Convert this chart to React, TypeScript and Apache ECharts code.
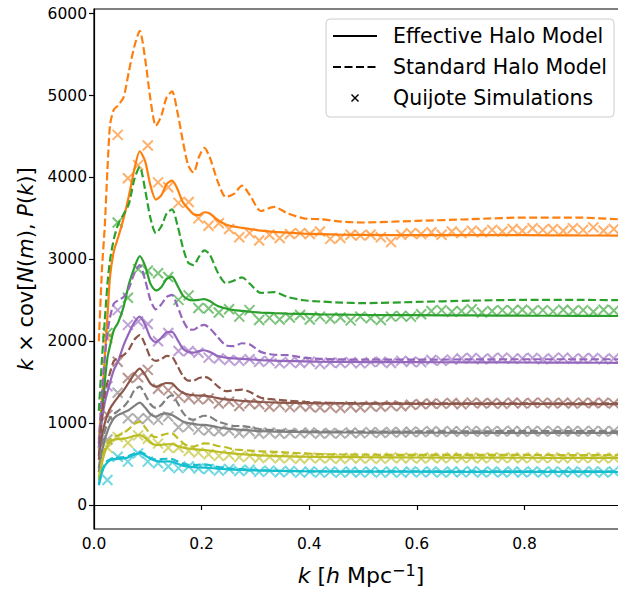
import React, { useEffect, useRef } from "react";
import * as echarts from "echarts";

const kModel = [0.009,0.015,0.02,0.025,0.03,0.037,0.045,0.055,0.065,0.075,0.085,0.095,0.105,0.115,0.125,0.135,0.145,0.155,0.165,0.175,0.185,0.195,0.205,0.215,0.23,0.245,0.26,0.275,0.29,0.31,0.335,0.36,0.39,0.42,0.46,0.5,0.6,0.7,0.8,0.9,0.985];

const orangeStd = [2000,2900,3400,4100,4650,4830,4880,4980,5300,5600,5790,5450,4950,4630,4750,4980,5050,4800,4450,4150,4060,4250,4360,4250,3950,3760,3800,3900,3780,3590,3640,3560,3500,3490,3460,3450,3470,3490,3510,3510,3485];
const orangeEff = [800,1300,1800,2300,2800,3100,3270,3500,3780,4100,4320,4200,3900,3730,3780,3920,3960,3860,3700,3620,3550,3540,3575,3560,3480,3425,3400,3385,3370,3350,3335,3325,3315,3308,3300,3298,3295,3295,3295,3292,3290];
const greenStd = [1150,1800,2250,2700,3000,3250,3430,3550,3680,3980,4130,3850,3500,3320,3400,3560,3610,3420,3150,2960,2930,3030,3110,3060,2840,2710,2740,2780,2700,2590,2600,2540,2500,2485,2472,2465,2480,2495,2505,2505,2500];
const greenEff = [700,1150,1500,1800,1950,2140,2230,2420,2700,2900,3040,2920,2700,2620,2660,2760,2790,2680,2560,2510,2500,2505,2515,2490,2430,2400,2380,2370,2360,2350,2342,2337,2333,2328,2325,2322,2318,2315,2312,2310,2308];
const purpleStd = [750,1400,1800,2100,2300,2460,2500,2540,2650,2830,2930,2750,2500,2390,2450,2540,2565,2430,2260,2150,2140,2180,2200,2160,2050,1950,1940,1975,1960,1870,1835,1830,1800,1785,1778,1775,1775,1778,1780,1780,1780];
const purpleEff = [700,1050,1250,1380,1500,1650,1760,1950,2100,2230,2300,2200,2040,1990,2040,2110,2115,2020,1910,1870,1860,1880,1890,1870,1820,1800,1790,1785,1778,1770,1762,1758,1754,1750,1748,1746,1744,1742,1740,1738,1736];
const brownStd = [600,1100,1350,1500,1620,1760,1800,1830,1900,2020,2075,1960,1800,1760,1780,1820,1810,1700,1580,1520,1520,1550,1565,1540,1450,1390,1400,1410,1380,1310,1290,1275,1260,1250,1245,1242,1240,1240,1242,1242,1240];
const brownEff = [550,850,1000,1100,1180,1250,1320,1400,1500,1600,1665,1590,1480,1445,1470,1490,1485,1420,1370,1350,1340,1335,1335,1325,1305,1290,1280,1272,1265,1258,1252,1248,1245,1242,1240,1238,1236,1235,1234,1233,1232];
const grayStd = [450,750,900,1000,1060,1110,1150,1200,1280,1400,1445,1350,1230,1185,1220,1300,1340,1250,1130,1060,1040,1070,1090,1080,1020,990,965,965,950,925,915,905,900,898,897,897,898,900,902,902,900];
const grayEff = [400,650,800,900,980,1060,1100,1130,1160,1210,1250,1190,1110,1080,1110,1120,1100,1060,1020,1000,990,980,978,970,950,935,925,918,910,903,897,893,890,888,886,885,883,882,881,880,880];
const oliveStd = [330,560,680,760,800,830,850,880,930,990,1015,950,860,830,850,870,875,820,760,720,712,735,752,750,720,705,680,672,665,655,650,640,630,622,617,614,612,611,611,610,610];
const oliveEff = [300,520,640,720,770,800,805,810,825,845,855,820,760,735,735,742,745,720,700,690,682,676,672,665,650,638,628,620,612,605,598,594,590,587,585,583,580,578,577,576,575];
const cyanStd = [260,420,500,540,560,575,580,585,600,630,650,620,575,555,560,565,562,535,505,490,488,492,495,488,465,450,442,438,433,425,420,415,412,410,410,410,410,410,411,411,410];
const cyanEff = [240,400,480,520,545,560,565,570,585,615,632,605,565,540,530,532,530,505,480,468,462,458,456,452,445,438,432,428,424,420,417,414,412,410,408,407,406,405,404,404,403];

const kSim = [0.025,0.044,0.063,0.082,0.100,0.119,0.138,0.157,0.176,0.194,0.213,0.232,0.251,0.270,0.289,0.307,0.326,0.345,0.364,0.383,0.401,0.420,0.439,0.458,0.477,0.495,0.514,0.533,0.552,0.571,0.589,0.608,0.627,0.646,0.665,0.683,0.702,0.721,0.740,0.759,0.778,0.796,0.815,0.834,0.853,0.872,0.890,0.909,0.928,0.947,0.966];

const orangeSim = [2040,4520,3990,4150,4390,3940,3880,3690,3700,3500,3410,3440,3370,3270,3320,3230,3300,3260,3310,3320,3310,3340,3250,3260,3300,3290,3300,3270,3210,3300,3320,3310,3330,3300,3340,3320,3350,3330,3360,3340,3370,3350,3380,3360,3370,3350,3380,3360,3390,3350,3370];
const greenSim = [2100,3450,2530,2880,2860,2830,2785,2505,2560,2405,2400,2350,2390,2300,2380,2260,2285,2265,2290,2320,2265,2300,2275,2290,2255,2300,2280,2260,2300,2310,2300,2330,2370,2380,2360,2370,2390,2350,2370,2380,2375,2385,2370,2380,2365,2385,2370,2380,2360,2385,2375];
const purpleSim = [1450,2380,2200,2240,2210,2000,2100,1880,1880,1860,1800,1790,1770,1760,1780,1750,1760,1730,1745,1735,1750,1720,1740,1735,1745,1730,1745,1750,1735,1760,1750,1745,1770,1760,1775,1790,1795,1780,1790,1800,1785,1790,1795,1780,1790,1800,1785,1790,1795,1780,1790];
const brownSim = [1100,1750,1550,1560,1650,1420,1400,1330,1310,1290,1300,1240,1260,1210,1240,1230,1200,1220,1195,1215,1200,1190,1200,1185,1205,1190,1210,1200,1215,1205,1225,1230,1240,1235,1245,1230,1250,1240,1245,1235,1250,1240,1245,1250,1240,1248,1238,1250,1242,1248,1240];
const graySim = [800,1370,1060,1050,1060,1040,1080,950,960,920,910,900,910,880,900,870,885,870,880,875,885,870,880,872,885,875,890,880,892,885,895,890,900,892,902,895,905,895,902,898,905,895,903,898,905,897,904,898,905,897,903];
const oliveSim = [700,830,760,850,810,750,700,700,660,640,620,600,610,585,600,575,590,570,580,565,580,570,575,565,578,568,575,565,580,570,578,568,580,570,582,572,580,570,582,572,580,570,582,572,580,570,582,572,580,570,578];
const cyanSim = [305,590,530,630,530,510,470,450,470,445,440,420,440,415,430,405,420,400,415,395,410,395,410,395,410,395,410,395,410,395,410,398,410,395,410,398,412,396,410,397,411,396,410,397,411,396,410,397,411,396,410];

const yTicks = [0, 1000, 2000, 3000, 4000, 5000, 6000];
const xTicks = [0, 0.2, 0.4, 0.6, 0.8];

const groups = [
  { color: "#ff7f0e", eff: orangeEff, std: orangeStd, sim: orangeSim },
  { color: "#2ca02c", eff: greenEff, std: greenStd, sim: greenSim },
  { color: "#9467bd", eff: purpleEff, std: purpleStd, sim: purpleSim },
  { color: "#8c564b", eff: brownEff, std: brownStd, sim: brownSim },
  { color: "#7f7f7f", eff: grayEff, std: grayStd, sim: graySim },
  { color: "#bcbd22", eff: oliveEff, std: oliveStd, sim: oliveSim },
  { color: "#17becf", eff: cyanEff, std: cyanStd, sim: cyanSim },
];

const FONT = "DejaVu Sans";
const CROSS = "path://M0,0L10,10M10,0L0,10";

export default function App() {
  const ref = useRef<HTMLDivElement>(null);
  useEffect(() => {
    const chart = echarts.init(ref.current!, null, { renderer: "svg" });
    const series: any[] = [];
    groups.forEach((g) => {
      series.push({
        type: "scatter",
        data: kSim.map((k, i) => [k, g.sim[i]]),
        symbol: CROSS,
        symbolSize: 10,
        itemStyle: { color: "none", borderColor: g.color, borderWidth: 2, opacity: 0.62 },
        silent: true,
        z: 2,
      });
    });
    groups.forEach((g) => {
      series.push({
        type: "line",
        data: kModel.map((k, i) => [k, g.eff[i]]),
        showSymbol: false,
        smooth: 0.25,
        lineStyle: { color: g.color, width: 2.2, type: "solid" },
        silent: true,
        z: 3,
      });
      series.push({
        type: "line",
        data: kModel.map((k, i) => [k, g.std[i]]),
        showSymbol: false,
        smooth: 0.25,
        lineStyle: { color: g.color, width: 2.2, type: [8, 3.5] },
        silent: true,
        z: 3,
      });
    });

    const option: any = {
      animation: false,
      backgroundColor: "#ffffff",
      grid: {
        left: 94,
        right: 6,
        top: 9,
        bottom: 61,
        show: true,
        borderColor: "#000",
        borderWidth: 1.2,
        backgroundColor: "transparent",
      },
      xAxis: {
        type: "value",
        min: 0,
        max: 0.985,
        splitLine: { show: false },
        axisLine: { show: true, lineStyle: { color: "#000", width: 1.2 } },
        axisTick: { show: true, length: 5, lineStyle: { color: "#000", width: 1.2 }, customValues: xTicks },
        axisLabel: {
          customValues: xTicks,
          formatter: (v: number) => v.toFixed(1),
          color: "#000",
          fontFamily: FONT,
          fontSize: 15.5,
          margin: 7,
        },
      },
      yAxis: {
        type: "value",
        min: -293,
        max: 6057,
        splitLine: { show: false },
        axisLine: { show: true, lineStyle: { color: "#000", width: 1.2 } },
        axisTick: { show: true, length: 5, lineStyle: { color: "#000", width: 1.2 }, customValues: yTicks },
        axisLabel: {
          customValues: yTicks,
          formatter: (v: number) => String(v),
          color: "#000",
          fontFamily: FONT,
          fontSize: 15.5,
          margin: 7,
        },
      },
      series,
      graphic: [
        {
          type: "text",
          x: 361,
          y: 575,
          z: 100,
          style: {
            text: "{i|k} [{i|h} Mpc{sup|−1}]",
            fontFamily: FONT,
            fontSize: 22,
            fill: "#000",
            align: "center",
            verticalAlign: "middle",
            rich: {
              i: { fontStyle: "italic", fontSize: 22, fontFamily: FONT },
              sup: { fontSize: 16, fontFamily: FONT, verticalAlign: "top", padding: [0, 0, 10, 0] },
            },
          },
        },
        {
          type: "text",
          x: 26,
          y: 269,
          rotation: Math.PI / 2,
          z: 100,
          style: {
            text: "{i|k} × cov[{i|N}({i|m}), {i|P}({i|k})]",
            fontFamily: FONT,
            fontSize: 21,
            fill: "#000",
            align: "center",
            verticalAlign: "middle",
            rich: {
              i: { fontStyle: "italic", fontSize: 21, fontFamily: FONT },
            },
          },
        },
        {
          type: "group",
          z: 100,
          children: [
            {
              type: "rect",
              shape: { x: 326, y: 19, width: 288, height: 98, r: 4 },
              style: { fill: "rgba(255,255,255,0.8)", stroke: "#cccccc", lineWidth: 1 },
              z: 100,
            },
            {
              type: "line",
              shape: { x1: 333, y1: 36, x2: 377, y2: 36 },
              style: { stroke: "#000", lineWidth: 2.2 },
              z: 101,
            },
            {
              type: "line",
              shape: { x1: 333, y1: 67, x2: 377, y2: 67 },
              style: { stroke: "#000", lineWidth: 2.2, lineDash: [8, 3.5] },
              z: 101,
            },
            {
              type: "line",
              shape: { x1: 351.5, y1: 94.5, x2: 358.5, y2: 101.5 },
              style: { stroke: "#000", lineWidth: 1.4 },
              z: 101,
            },
            {
              type: "line",
              shape: { x1: 358.5, y1: 94.5, x2: 351.5, y2: 101.5 },
              style: { stroke: "#000", lineWidth: 1.4 },
              z: 101,
            },
            {
              type: "text",
              x: 393,
              y: 36,
              z: 101,
              style: { text: "Effective Halo Model", fontFamily: FONT, fontSize: 20.5, fill: "#000", verticalAlign: "middle" },
            },
            {
              type: "text",
              x: 393,
              y: 67,
              z: 101,
              style: { text: "Standard Halo Model", fontFamily: FONT, fontSize: 20.5, fill: "#000", verticalAlign: "middle" },
            },
            {
              type: "text",
              x: 393,
              y: 98,
              z: 101,
              style: { text: "Quijote Simulations", fontFamily: FONT, fontSize: 20.5, fill: "#000", verticalAlign: "middle" },
            },
          ],
        },
      ],
    };
    chart.setOption(option);
    return () => chart.dispose();
  }, []);

  return (
    <div
      style={{
        position: "absolute",
        left: 0,
        top: 0,
        width: 618,
        height: 590,
        overflow: "hidden",
        background: "#fff",
      }}
    >
      <div ref={ref} style={{ width: 630, height: 590 }} />
    </div>
  );
}
